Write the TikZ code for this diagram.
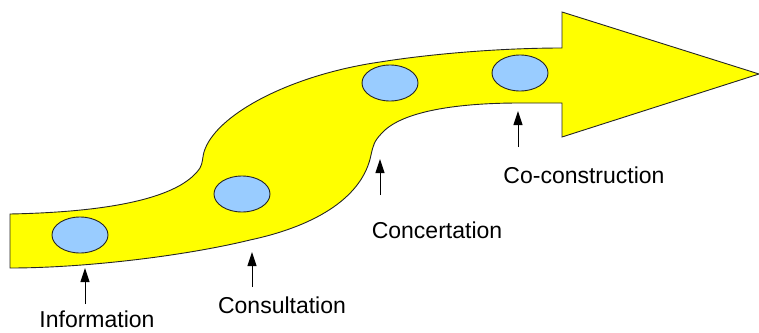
\documentclass[tikz,border=0pt]{standalone}
\usepackage{fontspec}
\setmainfont{Liberation Sans}
\usepackage{xcolor}
\definecolor{pathYellow}{HTML}{FFFF00}
\definecolor{stageBlue}{HTML}{99CCFF}
\usetikzlibrary{arrows.meta}

\begin{document}
\begin{tikzpicture}[x=1pt,y=-1pt,
  stage/.style={fill=stageBlue, draw=black!85, line width=0.9pt},
  stagename/.style={font=\fontsize{23}{27}\selectfont, inner sep=0pt},
  pointer/.style={-{Triangle[length=14pt,width=9pt]}, line width=1pt}]
  \useasboundingbox (0,0) rectangle (759,332);

  % the yellow band and arrow head
  \filldraw[fill=pathYellow, draw=black!85, line width=0.9pt]
    (10,214) .. controls (110,212) and (180,198) .. (200,168)
    .. controls (203,162) and (202,160) .. (204,152)
    .. controls (215,115) and (290,75) .. (380,62)
    .. controls (430,54) and (500,48) .. (562,48)
    -- (562,12) -- (759,74) -- (562,137) -- (562,103) -- (520,103)
    .. controls (450,103) and (400,113) .. (382,133)
    .. controls (374,141) and (373,146) .. (371,155)
    .. controls (363,195) and (320,225) .. (250,240)
    .. controls (180,257) and (80,268) .. (10,268) -- cycle;

  % stages
  \filldraw[stage] (80,235) ellipse [x radius=28, y radius=18];
  \filldraw[stage] (242,194) ellipse [x radius=28, y radius=18];
  \filldraw[stage] (390,83) ellipse [x radius=28, y radius=18];
  \filldraw[stage] (520,73) ellipse [x radius=28, y radius=18];

  % labels and pointers
  \node[stagename] (info) at (97,319) {Information};
  \coordinate (infoTail) at (85,304);
  \coordinate (infoTip) at (85,268);
  \draw[pointer] (infoTail) -- (infoTip);

  \node[stagename] (consult) at (282,305) {Consultation};
  \coordinate (consultTail) at (252,287);
  \coordinate (consultTip) at (252,252);
  \draw[pointer] (consultTail) -- (consultTip);

  \node[stagename] (concert) at (437,230) {Concertation};
  \coordinate (concertTail) at (380,195);
  \coordinate (concertTip) at (380,159);
  \draw[pointer] (concertTail) -- (concertTip);

  \node[stagename] (cocons) at (584,175) {Co-construction};
  \coordinate (coconsTail) at (518,147);
  \coordinate (coconsTip) at (518,111);
  \draw[pointer] (coconsTail) -- (coconsTip);
\end{tikzpicture}
\end{document}
